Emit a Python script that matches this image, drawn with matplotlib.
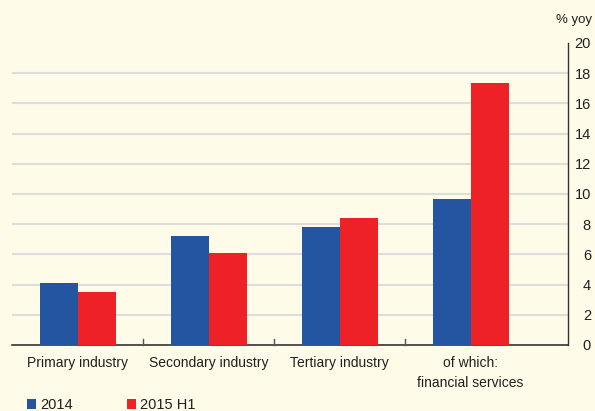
import matplotlib.pyplot as plt
import numpy as np

plt.rcParams['font.family'] = ['Liberation Sans', 'DejaVu Sans']

categories = ['Primary industry', 'Secondary industry', 'Tertiary industry',
              'of which:\nfinancial services']
series_names = ['2014', '2015 H1']
vals_2014 = [4.1, 7.25, 7.8, 9.7]
vals_2015h1 = [3.5, 6.1, 8.4, 17.35]
yticks = list(range(0, 21, 2))

bg = '#fefbe8'
blue = '#2355a0'
red = '#ee2226'
txt = '#231f20'

fig = plt.figure(figsize=(5.95, 4.11), dpi=100, facecolor=bg)
ax = fig.add_axes([0.021, 0.1606, 0.9336, 0.7348], facecolor=bg)

x = np.arange(len(categories))
w = 0.29
ax.bar(x - w / 2, vals_2014, w, color=blue, zorder=3, label=series_names[0])
ax.bar(x + w / 2, vals_2015h1, w, color=red, zorder=3, label=series_names[1])

ax.set_xlim(-0.5, 3.744)
ax.set_ylim(0, 20)

for t in yticks[1:-1]:
    ax.axhline(t, color='#dddddd', lw=1.5, zorder=1)

ax.yaxis.tick_right()
ax.set_yticks(yticks)
ax.set_yticklabels([str(t) for t in yticks], fontsize=10.5, color=txt, ha='right')
ax.tick_params(axis='y', length=0, pad=16.5)

ax.set_xticks(x)
ax.set_xticklabels(categories, fontsize=10, color=txt, linespacing=1.5)
ax.tick_params(axis='x', length=0, pad=8)

# small separators between categories
for sep in [0.5, 1.5, 2.5]:
    ax.plot([sep, sep], [0, 0.4], color='#555555', lw=1, zorder=4, clip_on=False)

for s in ['left', 'top']:
    ax.spines[s].set_visible(False)
ax.spines['bottom'].set_color('#333333')
ax.spines['bottom'].set_linewidth(1.2)
ax.spines['right'].set_color('#333333')
ax.spines['right'].set_linewidth(1.0)

fig.text(0.995, 0.952, '% yoy', ha='right', va='center', fontsize=9.5, color=txt)

leg = fig.legend(handles=ax.patches[:1] + ax.patches[4:5], labels=series_names,
                 loc='lower left', bbox_to_anchor=(0.023, -0.035), ncol=2,
                 frameon=False, fontsize=10.5, handlelength=0.65, handleheight=0.65,
                 handletextpad=0.25, columnspacing=3.7, labelcolor=txt)

fig.savefig('out.png', dpi=100, facecolor=bg)
